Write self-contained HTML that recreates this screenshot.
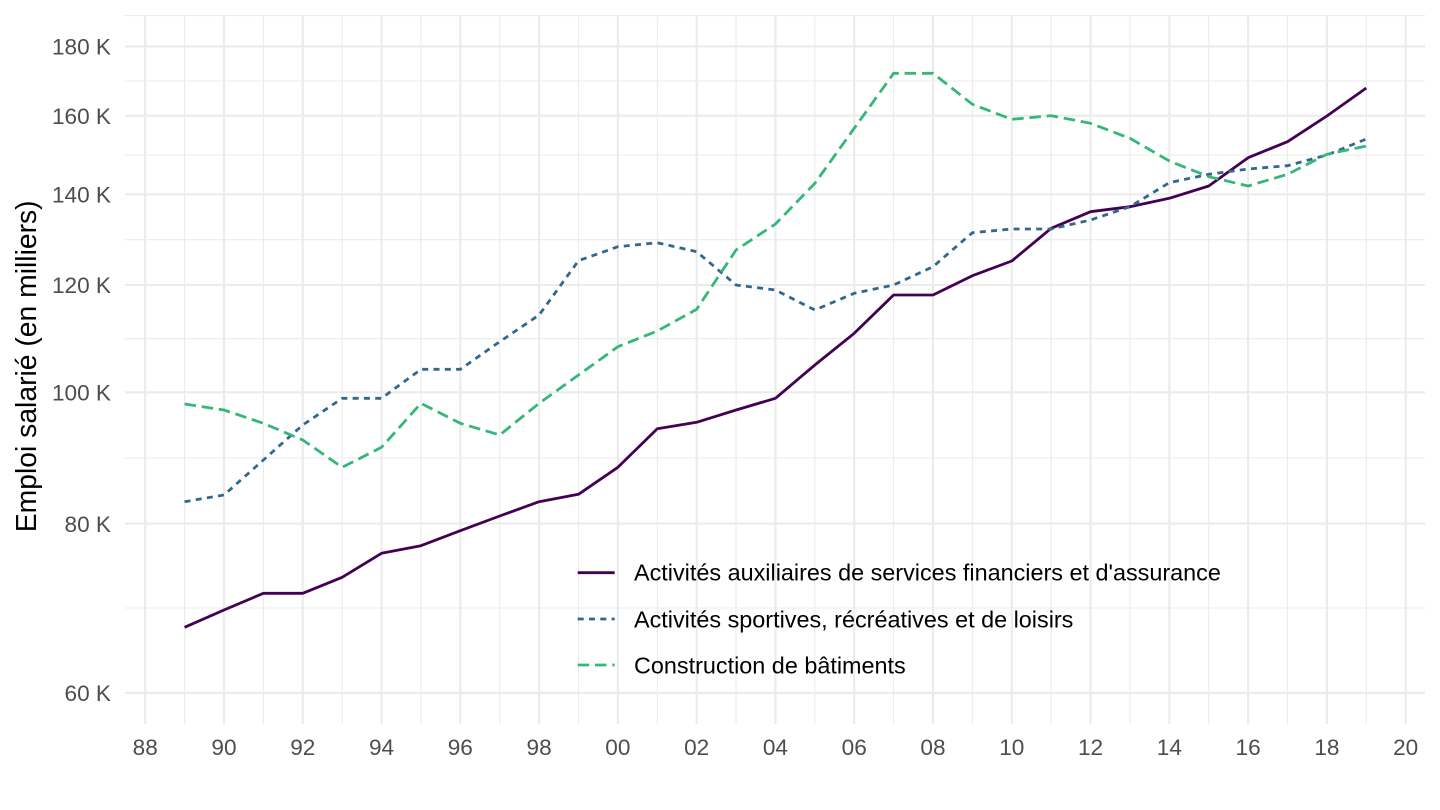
<!DOCTYPE html>
<html>
<head>
<meta charset="utf-8">
<style>
  html, body { margin: 0; padding: 0; background: #ffffff; }
  svg { display: block; }
  text { font-family: "Liberation Sans", Arial, sans-serif; }
</style>
</head>
<body>
<svg width="1440" height="810" viewBox="0 0 1440 810" xmlns="http://www.w3.org/2000/svg">
  <rect x="0" y="0" width="1440" height="810" fill="#ffffff"/>

  <!-- minor horizontal gridlines -->
  <g stroke="#EBEBEB" stroke-width="1.1" fill="none">
    <line x1="125" x2="1425" y1="15.6" y2="15.6"/>
    <line x1="125" x2="1425" y1="81" y2="81"/>
    <line x1="125" x2="1425" y1="155" y2="155"/>
    <line x1="125" x2="1425" y1="239.7" y2="239.7"/>
    <line x1="125" x2="1425" y1="338.7" y2="338.7"/>
    <line x1="125" x2="1425" y1="458" y2="458"/>
    <line x1="125" x2="1425" y1="608" y2="608"/>
  </g>
  <!-- minor vertical gridlines (odd years) -->
  <g stroke="#EBEBEB" stroke-width="1.1" fill="none">
    <line y1="15.6" y2="724" x1="184.59" x2="184.59"/>
    <line y1="15.6" y2="724" x1="263.37" x2="263.37"/>
    <line y1="15.6" y2="724" x1="342.15" x2="342.15"/>
    <line y1="15.6" y2="724" x1="420.93" x2="420.93"/>
    <line y1="15.6" y2="724" x1="499.71" x2="499.71"/>
    <line y1="15.6" y2="724" x1="578.49" x2="578.49"/>
    <line y1="15.6" y2="724" x1="657.27" x2="657.27"/>
    <line y1="15.6" y2="724" x1="736.05" x2="736.05"/>
    <line y1="15.6" y2="724" x1="814.83" x2="814.83"/>
    <line y1="15.6" y2="724" x1="893.61" x2="893.61"/>
    <line y1="15.6" y2="724" x1="972.39" x2="972.39"/>
    <line y1="15.6" y2="724" x1="1051.17" x2="1051.17"/>
    <line y1="15.6" y2="724" x1="1129.95" x2="1129.95"/>
    <line y1="15.6" y2="724" x1="1208.73" x2="1208.73"/>
    <line y1="15.6" y2="724" x1="1287.51" x2="1287.51"/>
    <line y1="15.6" y2="724" x1="1366.29" x2="1366.29"/>
  </g>
  <!-- major horizontal gridlines -->
  <g stroke="#EBEBEB" stroke-width="2.1" fill="none">
    <line x1="125" x2="1425" y1="46.4" y2="46.4"/>
    <line x1="125" x2="1425" y1="115.7" y2="115.7"/>
    <line x1="125" x2="1425" y1="194.3" y2="194.3"/>
    <line x1="125" x2="1425" y1="285" y2="285"/>
    <line x1="125" x2="1425" y1="392.3" y2="392.3"/>
    <line x1="125" x2="1425" y1="523.6" y2="523.6"/>
    <line x1="125" x2="1425" y1="692.9" y2="692.9"/>
  </g>
  <!-- major vertical gridlines (even years) -->
  <g stroke="#EBEBEB" stroke-width="2.1" fill="none">
    <line y1="15.6" y2="724" x1="145.2" x2="145.2"/>
    <line y1="15.6" y2="724" x1="223.98" x2="223.98"/>
    <line y1="15.6" y2="724" x1="302.76" x2="302.76"/>
    <line y1="15.6" y2="724" x1="381.54" x2="381.54"/>
    <line y1="15.6" y2="724" x1="460.32" x2="460.32"/>
    <line y1="15.6" y2="724" x1="539.1" x2="539.1"/>
    <line y1="15.6" y2="724" x1="617.88" x2="617.88"/>
    <line y1="15.6" y2="724" x1="696.66" x2="696.66"/>
    <line y1="15.6" y2="724" x1="775.44" x2="775.44"/>
    <line y1="15.6" y2="724" x1="854.22" x2="854.22"/>
    <line y1="15.6" y2="724" x1="933" x2="933"/>
    <line y1="15.6" y2="724" x1="1011.78" x2="1011.78"/>
    <line y1="15.6" y2="724" x1="1090.56" x2="1090.56"/>
    <line y1="15.6" y2="724" x1="1169.34" x2="1169.34"/>
    <line y1="15.6" y2="724" x1="1248.12" x2="1248.12"/>
    <line y1="15.6" y2="724" x1="1326.9" x2="1326.9"/>
    <line y1="15.6" y2="724" x1="1405.68" x2="1405.68"/>
  </g>

  <!-- Series: purple solid -->
  <polyline fill="none" stroke="#440154" stroke-width="2.8" stroke-linejoin="round"
    points="184.59,627.3 223.98,610 263.37,593.3 302.76,593.3 342.15,577.3 381.54,553.3 420.93,545.7 460.32,530.7 499.71,516 539.1,501.7 578.49,494.3 617.88,467.3 657.27,428.7 696.66,422.3 736.05,410 775.44,398.3 814.83,365 854.22,333.3 893.61,295 933,295 972.39,275.7 1011.78,261 1051.17,228.3 1090.56,211.7 1129.95,206.7 1169.34,198.3 1208.73,186 1248.12,157.7 1287.51,141.7 1326.9,116 1366.29,88"/>

  <!-- Series: blue dotted -->
  <polyline fill="none" stroke="#31688E" stroke-width="2.8" stroke-dasharray="6 5.3"
    points="184.59,501.7 223.98,495 263.37,460 302.76,425 342.15,398.3 381.54,398.3 420.93,369.3 460.32,369.3 499.71,341.7 539.1,315 578.49,260.7 617.88,246.7 657.27,242.7 696.66,251.7 736.05,285 775.44,290 814.83,310 854.22,293.3 893.61,285 933,266.7 972.39,232.7 1011.78,229 1051.17,229 1090.56,220 1129.95,206.7 1169.34,182.7 1208.73,174.3 1248.12,169 1287.51,165.7 1326.9,155 1366.29,139"/>

  <!-- Series: green dashed -->
  <polyline fill="none" stroke="#35B779" stroke-width="2.8" stroke-dasharray="11.5 5.8"
    points="184.59,404 223.98,410 263.37,423.3 302.76,440 342.15,467.3 381.54,447.3 420.93,403.3 460.32,423.3 499.71,435 539.1,403.3 578.49,375 617.88,346.7 657.27,331 696.66,309.3 736.05,250 775.44,224 814.83,183.3 854.22,128.3 893.61,73.3 933,73.3 972.39,104.3 1011.78,119.3 1051.17,115.7 1090.56,123.3 1129.95,138.3 1169.34,161 1208.73,176.7 1248.12,186 1287.51,174.3 1326.9,154.3 1366.29,146"/>

  <!-- Y tick labels -->
  <g fill="#4D4D4D" font-size="22.6" text-anchor="end">
    <text x="111" y="54.6">180 K</text>
    <text x="111" y="123.9">160 K</text>
    <text x="111" y="202.5">140 K</text>
    <text x="111" y="293.2">120 K</text>
    <text x="111" y="400.5">100 K</text>
    <text x="111" y="531.8">80 K</text>
    <text x="111" y="701.1">60 K</text>
  </g>

  <!-- X tick labels -->
  <g fill="#4D4D4D" font-size="22.6" text-anchor="middle">
    <text x="145.2" y="755">88</text>
    <text x="223.98" y="755">90</text>
    <text x="302.76" y="755">92</text>
    <text x="381.54" y="755">94</text>
    <text x="460.32" y="755">96</text>
    <text x="539.1" y="755">98</text>
    <text x="617.88" y="755">00</text>
    <text x="696.66" y="755">02</text>
    <text x="775.44" y="755">04</text>
    <text x="854.22" y="755">06</text>
    <text x="933" y="755">08</text>
    <text x="1011.78" y="755">10</text>
    <text x="1090.56" y="755">12</text>
    <text x="1169.34" y="755">14</text>
    <text x="1248.12" y="755">16</text>
    <text x="1326.9" y="755">18</text>
    <text x="1405.68" y="755">20</text>
  </g>

  <!-- Y axis title -->
  <text transform="translate(36,366.3) rotate(-90)" text-anchor="middle" font-size="28.3" fill="#000000">Emploi salarié (en milliers)</text>

  <!-- Legend -->
  <g>
    <line x1="577.7" x2="614.7" y1="572.7" y2="572.7" stroke="#440154" stroke-width="2.8"/>
    <line x1="577.7" x2="614.7" y1="619" y2="619" stroke="#31688E" stroke-width="2.8" stroke-dasharray="6 5.3"/>
    <line x1="577.7" x2="614.7" y1="665" y2="665" stroke="#35B779" stroke-width="2.8" stroke-dasharray="11.5 5.8"/>
    <g fill="#000000" font-size="23.4">
      <text x="634" y="580.7">Activités auxiliaires de services financiers et d'assurance</text>
      <text x="634" y="627.3">Activités sportives, récréatives et de loisirs</text>
      <text x="634" y="673.3">Construction de bâtiments</text>
    </g>
  </g>
</svg>
</body>
</html>
